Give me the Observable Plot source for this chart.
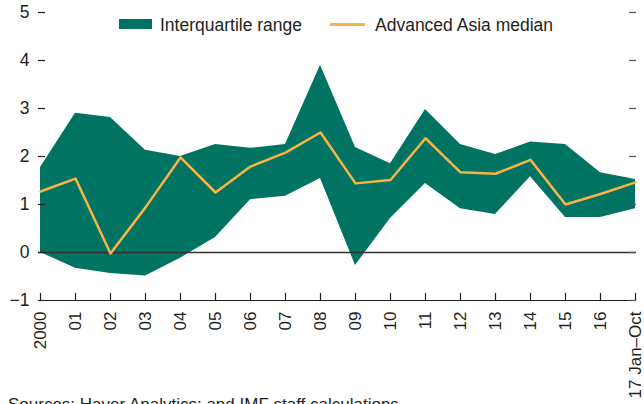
<!DOCTYPE html>
<html>
<head>
<meta charset="utf-8">
<script src="https://cdn.jsdelivr.net/npm/d3@7"></script>
<script src="https://cdn.jsdelivr.net/npm/@observablehq/plot@0.6"></script>
<style>
  html, body { margin: 0; padding: 0; background: #fff; }
  body { width: 644px; height: 404px; overflow: hidden; font-family: "Liberation Sans", Arial, sans-serif; color: #231f20; }
  #wrap { position: relative; width: 644px; }
  #legend { position: absolute; left: 0; top: 0; width: 644px; height: 40px; font-size: 17.5px; }
  .sw { position: absolute; }
  .lt { position: absolute; top: 14px; line-height: 22px; white-space: nowrap; }
  #caption { font-size: 17px; padding-left: 8px; line-height: 20px; white-space: nowrap; }
</style>
</head>
<body>
<div id="wrap">
  <div id="chart"></div>
  <div id="legend">
    <div class="sw" style="left:119px;top:19px;width:33px;height:10px;background:#007362"></div>
    <div class="lt" style="left:160px">Interquartile range</div>
    <div class="sw" style="left:330px;top:23px;width:35px;height:2.5px;background:#f9b445"></div>
    <div class="lt" style="left:375px">Advanced Asia median</div>
  </div>
</div>
<div id="caption">Sources: Haver Analytics; and IMF staff calculations.</div>
<script>
const years = ["2000","01","02","03","04","05","06","07","08","09","10","11","12","13","14","15","16","17 Jan–Oct"];
const q75 = [1.77, 2.90, 2.81, 2.13, 2.00, 2.25, 2.17, 2.25, 3.90, 2.19, 1.85, 2.98, 2.25, 2.04, 2.30, 2.25, 1.66, 1.52];
const q25 = [0.00, -0.33, -0.44, -0.49, -0.12, 0.31, 1.10, 1.17, 1.54, -0.27, 0.71, 1.44, 0.91, 0.79, 1.58, 0.73, 0.73, 0.91];
const median = [1.27, 1.54, -0.02, 0.94, 1.98, 1.25, 1.79, 2.08, 2.50, 1.44, 1.51, 2.38, 1.67, 1.64, 1.93, 1.00, 1.22, 1.46];
const yTicks = [-1, 0, 1, 2, 3, 4, 5];

const data = years.map((year, i) => ({year, lo: q25[i], hi: q75[i], med: median[i]}));

const W = 644, H = 395, mL = 38, mR = 8, mT = 12, mB = 95;
const innerW = W - mL - mR, innerH = H - mT - mB;

const chart = Plot.plot({
  width: W, height: H,
  marginLeft: mL, marginRight: mR, marginTop: mT, marginBottom: mB,
  style: {fontFamily: '"Liberation Sans", Arial, sans-serif', fontSize: "17px", color: "#231f20", background: "#fff", overflow: "visible"},
  x: {type: "point", domain: years, padding: 0},
  y: {domain: [-1, 5]},
  marks: [
    Plot.areaY(data, {x: "year", y1: "lo", y2: "hi", fill: "#007362", fillOpacity: 1}),
    Plot.ruleY([0], {stroke: "#333", strokeWidth: 1.3}),
    Plot.lineY(data, {x: "year", y: "med", stroke: "#f9b445", strokeWidth: 2.5}),
    Plot.ruleY([-1], {stroke: "#231f20", strokeWidth: 1.2}),
    Plot.tickY(yTicks, {y: d => d, stroke: "#231f20", strokeWidth: 1.2, insetRight: innerW - 7}),
    Plot.tickY(yTicks, {y: d => d, stroke: "#555", strokeWidth: 1.2, insetLeft: innerW - 7}),
    Plot.tickX(years, {x: d => d, stroke: "#231f20", strokeWidth: 1.2, insetTop: innerH - 7}),
    Plot.axisY(yTicks, {anchor: "left", tickSize: 0, tickPadding: 9, label: null, fontSize: 17.5}),
    Plot.axisX(years, {anchor: "bottom", tickSize: 0, tickPadding: 11, tickRotate: -90, label: null, fontSize: 17})
  ]
});
document.getElementById("chart").appendChild(chart);
</script>
</body>
</html>
